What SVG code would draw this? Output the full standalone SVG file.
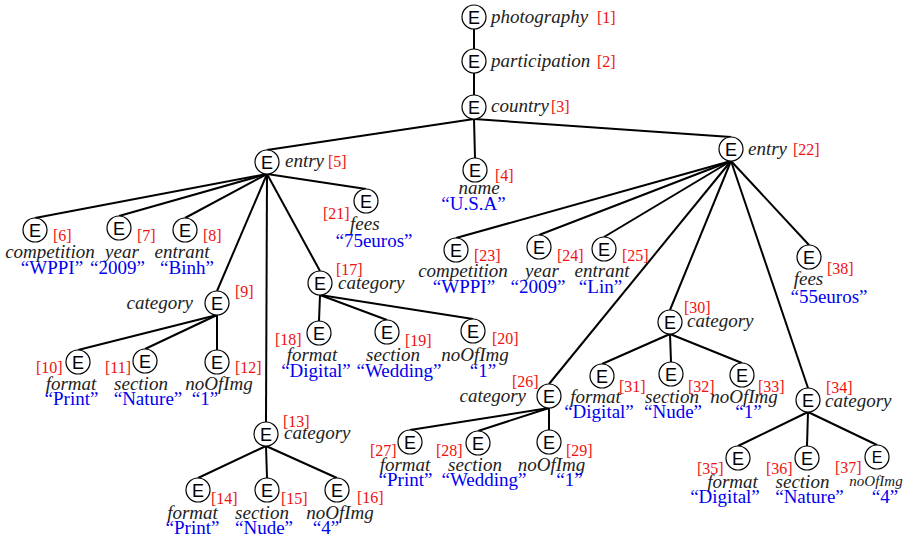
<svg xmlns="http://www.w3.org/2000/svg" width="908" height="540" viewBox="0 0 908 540">
<style>
.bg{fill:#fff}
circle{fill:#fff;stroke:#000;stroke-width:1.2}
.E{font-family:"Liberation Sans",Arial,sans-serif;font-size:18px;text-anchor:middle;fill:#000}
.l{font-family:"Liberation Serif","Times New Roman",serif;font-style:italic;font-size:19px;fill:#222}
.r{font-family:"Liberation Serif","Times New Roman",serif;font-size:16px;fill:#f01010}
.v{font-family:"Liberation Serif","Times New Roman",serif;font-size:19px;fill:#0000ee;text-anchor:middle}
.m{text-anchor:middle}
.end{text-anchor:end}
#edges line{stroke:#000;stroke-width:2}
</style>
<rect class="bg" width="908" height="540"/>
<g id="edges">
<line x1="474" y1="29" x2="474" y2="49"/>
<line x1="474" y1="73" x2="474" y2="95"/>
<line x1="474" y1="119" x2="267" y2="150"/>
<line x1="474" y1="119" x2="475" y2="158"/>
<line x1="474" y1="119" x2="731" y2="137"/>
<line x1="267" y1="174" x2="35" y2="218"/>
<line x1="267" y1="174" x2="119" y2="216"/>
<line x1="267" y1="174" x2="185" y2="218"/>
<line x1="267" y1="174" x2="217" y2="291"/>
<line x1="267" y1="174" x2="266" y2="422"/>
<line x1="267" y1="174" x2="320" y2="271"/>
<line x1="267" y1="174" x2="366" y2="189"/>
<line x1="217" y1="315" x2="78" y2="350"/>
<line x1="217" y1="315" x2="145" y2="349"/>
<line x1="217" y1="315" x2="217" y2="350"/>
<line x1="266" y1="446" x2="198" y2="478"/>
<line x1="266" y1="446" x2="267" y2="478"/>
<line x1="266" y1="446" x2="337" y2="478"/>
<line x1="320" y1="295" x2="319" y2="321"/>
<line x1="320" y1="295" x2="387" y2="320"/>
<line x1="320" y1="295" x2="473" y2="319"/>
<line x1="731" y1="161" x2="456" y2="238"/>
<line x1="731" y1="161" x2="539" y2="235"/>
<line x1="731" y1="161" x2="604" y2="237"/>
<line x1="731" y1="161" x2="549" y2="384"/>
<line x1="731" y1="161" x2="670" y2="310"/>
<line x1="731" y1="161" x2="808" y2="388"/>
<line x1="731" y1="161" x2="809" y2="245"/>
<line x1="549" y1="408" x2="410" y2="430"/>
<line x1="549" y1="408" x2="478" y2="431"/>
<line x1="549" y1="408" x2="549" y2="430"/>
<line x1="670" y1="334" x2="602" y2="364"/>
<line x1="670" y1="334" x2="671" y2="362"/>
<line x1="670" y1="334" x2="742" y2="363"/>
<line x1="808" y1="412" x2="738" y2="446"/>
<line x1="808" y1="412" x2="807" y2="446"/>
<line x1="808" y1="412" x2="877" y2="445"/>
</g>
<g id="n1"><circle cx="474" cy="17" r="12"/><text class="E" x="474" y="23.5">E</text><text class="l" x="491" y="23">photography</text><text class="r" x="597" y="23">[1]</text></g>
<g id="n2"><circle cx="474" cy="61" r="12"/><text class="E" x="474" y="67.5">E</text><text class="l" x="491" y="67">participation</text><text class="r" x="597" y="67">[2]</text></g>
<g id="n3"><circle cx="474" cy="107" r="12"/><text class="E" x="474" y="113.5">E</text><text class="l" x="491" y="112">country</text><text class="r" x="551" y="112">[3]</text></g>
<g id="n4"><circle cx="475" cy="170" r="12"/><text class="E" x="475" y="176.5">E</text><text class="r" x="495" y="181">[4]</text><text class="l m" x="479" y="194">name</text><text class="v" x="473.5" y="210">“U.S.A”</text></g>
<g id="n5"><circle cx="267" cy="162" r="12"/><text class="E" x="267" y="168.5">E</text><text class="l" x="285" y="167">entry</text><text class="r" x="328" y="167">[5]</text></g>
<g id="n6"><circle cx="35" cy="230" r="12"/><text class="E" x="35" y="236.5">E</text><text class="r" x="53" y="241">[6]</text><text class="l m" x="50" y="258">competition</text><text class="v" x="52" y="274">“WPPI”</text></g>
<g id="n7"><circle cx="119" cy="228" r="12"/><text class="E" x="119" y="234.5">E</text><text class="r" x="137" y="241">[7]</text><text class="l m" x="122" y="258">year</text><text class="v" x="117.5" y="274">“2009”</text></g>
<g id="n8"><circle cx="185" cy="230" r="12"/><text class="E" x="185" y="236.5">E</text><text class="r" x="203" y="241">[8]</text><text class="l m" x="182" y="258">entrant</text><text class="v" x="187" y="274">“Binh”</text></g>
<g id="n9"><circle cx="217" cy="303" r="12"/><text class="E" x="217" y="309.5">E</text><text class="r" x="235" y="297">[9]</text><text class="l end" x="193" y="309">category</text></g>
<g id="n10"><circle cx="78" cy="362" r="12"/><text class="E" x="78" y="368.5">E</text><text class="r" x="36" y="373">[10]</text><text class="l m" x="71" y="390">format</text><text class="v" x="71.5" y="405">“Print”</text></g>
<g id="n11"><circle cx="145" cy="361" r="12"/><text class="E" x="145" y="367.5">E</text><text class="r" x="105" y="373">[11]</text><text class="l m" x="141" y="390">section</text><text class="v" x="148" y="405">“Nature”</text></g>
<g id="n12"><circle cx="217" cy="362" r="12"/><text class="E" x="217" y="368.5">E</text><text class="r" x="235" y="373">[12]</text><text class="l m" x="219" y="390">noOfImg</text><text class="v" x="205" y="405">“1”</text></g>
<g id="n13"><circle cx="266" cy="434" r="12"/><text class="E" x="266" y="440.5">E</text><text class="r" x="283" y="427">[13]</text><text class="l" x="284" y="439">category</text></g>
<g id="n14"><circle cx="198" cy="490" r="12"/><text class="E" x="198" y="496.5">E</text><text class="r" x="211" y="504">[14]</text><text class="l m" x="192.5" y="519">format</text><text class="v" x="192.5" y="534">“Print”</text></g>
<g id="n15"><circle cx="267" cy="490" r="12"/><text class="E" x="267" y="496.5">E</text><text class="r" x="281" y="504">[15]</text><text class="l m" x="262" y="519">section</text><text class="v" x="264" y="534">“Nude”</text></g>
<g id="n16"><circle cx="337" cy="490" r="12"/><text class="E" x="337" y="496.5">E</text><text class="r" x="357" y="503">[16]</text><text class="l m" x="340" y="519">noOfImg</text><text class="v" x="326" y="534">“4”</text></g>
<g id="n17"><circle cx="320" cy="283" r="12"/><text class="E" x="320" y="289.5">E</text><text class="r" x="336" y="275">[17]</text><text class="l" x="338" y="289">category</text></g>
<g id="n18"><circle cx="319" cy="333" r="12"/><text class="E" x="319" y="339.5">E</text><text class="r" x="275" y="345">[18]</text><text class="l m" x="312" y="361">format</text><text class="v" x="316" y="377">“Digital”</text></g>
<g id="n19"><circle cx="387" cy="332" r="12"/><text class="E" x="387" y="338.5">E</text><text class="r" x="405" y="346">[19]</text><text class="l m" x="393" y="361">section</text><text class="v" x="399" y="377">“Wedding”</text></g>
<g id="n20"><circle cx="473" cy="331" r="12"/><text class="E" x="473" y="337.5">E</text><text class="r" x="492" y="344">[20]</text><text class="l m" x="475" y="361">noOfImg</text><text class="v" x="483" y="377">“1”</text></g>
<g id="n21"><circle cx="366" cy="201" r="12"/><text class="E" x="366" y="207.5">E</text><text class="r" x="323" y="219">[21]</text><text class="l" x="350" y="230">fees</text><text class="v" x="374" y="247">“75euros”</text></g>
<g id="n22"><circle cx="731" cy="149" r="12"/><text class="E" x="731" y="155.5">E</text><text class="l" x="748" y="155">entry</text><text class="r" x="793" y="155">[22]</text></g>
<g id="n23"><circle cx="456" cy="250" r="12"/><text class="E" x="456" y="256.5">E</text><text class="r" x="474" y="261">[23]</text><text class="l m" x="463" y="277">competition</text><text class="v" x="464" y="293">“WPPI”</text></g>
<g id="n24"><circle cx="539" cy="247" r="12"/><text class="E" x="539" y="253.5">E</text><text class="r" x="557" y="261">[24]</text><text class="l m" x="542" y="277">year</text><text class="v" x="538" y="293">“2009”</text></g>
<g id="n25"><circle cx="604" cy="249" r="12"/><text class="E" x="604" y="255.5">E</text><text class="r" x="622" y="261">[25]</text><text class="l m" x="602" y="277">entrant</text><text class="v" x="600.5" y="293">“Lin”</text></g>
<g id="n26"><circle cx="549" cy="396" r="12"/><text class="E" x="549" y="402.5">E</text><text class="r" x="512" y="387">[26]</text><text class="l end" x="526" y="402">category</text></g>
<g id="n27"><circle cx="410" cy="442" r="12"/><text class="E" x="410" y="448.5">E</text><text class="r" x="370" y="456">[27]</text><text class="l m" x="405" y="471">format</text><text class="v" x="405.5" y="486">“Print”</text></g>
<g id="n28"><circle cx="478" cy="443" r="12"/><text class="E" x="478" y="449.5">E</text><text class="r" x="436" y="456">[28]</text><text class="l m" x="475" y="471">section</text><text class="v" x="484" y="486">“Wedding”</text></g>
<g id="n29"><circle cx="549" cy="442" r="12"/><text class="E" x="549" y="448.5">E</text><text class="r" x="566" y="456">[29]</text><text class="l m" x="551.5" y="471">noOfImg</text><text class="v" x="569.5" y="486">“1”</text></g>
<g id="n30"><circle cx="670" cy="322" r="12"/><text class="E" x="670" y="328.5">E</text><text class="r" x="684" y="313">[30]</text><text class="l" x="687" y="327">category</text></g>
<g id="n31"><circle cx="602" cy="376" r="12"/><text class="E" x="602" y="382.5">E</text><text class="r" x="619" y="392">[31]</text><text class="l m" x="595.5" y="403">format</text><text class="v" x="599" y="418">“Digital”</text></g>
<g id="n32"><circle cx="671" cy="374" r="12"/><text class="E" x="671" y="380.5">E</text><text class="r" x="688" y="392">[32]</text><text class="l m" x="672" y="403">section</text><text class="v" x="673" y="418">“Nude”</text></g>
<g id="n33"><circle cx="742" cy="375" r="12"/><text class="E" x="742" y="381.5">E</text><text class="r" x="758" y="392">[33]</text><text class="l m" x="744" y="403">noOfImg</text><text class="v" x="748.5" y="418">“1”</text></g>
<g id="n34"><circle cx="808" cy="400" r="12"/><text class="E" x="808" y="406.5">E</text><text class="r" x="826" y="393">[34]</text><text class="l" x="825" y="407">category</text></g>
<g id="n35"><circle cx="738" cy="458" r="12"/><text class="E" x="738" y="464.5">E</text><text class="r" x="697" y="474">[35]</text><text class="l m" x="732.5" y="488">format</text><text class="v" x="725" y="503">“Digital”</text></g>
<g id="n36"><circle cx="807" cy="458" r="12"/><text class="E" x="807" y="464.5">E</text><text class="r" x="766" y="474">[36]</text><text class="l m" x="802.5" y="488">section</text><text class="v" x="809.5" y="503">“Nature”</text></g>
<g id="n37"><circle cx="877" cy="457" r="12"/><text class="E" x="877" y="462.5" style="font-size:16px">E</text><text class="r" x="835" y="473">[37]</text><text class="l m" x="876" y="486" style="font-size:15px">noOfImg</text><text class="v" x="885" y="503">“4”</text></g>
<g id="n38"><circle cx="809" cy="257" r="12"/><text class="E" x="809" y="263.5">E</text><text class="r" x="827" y="274">[38]</text><text class="l m" x="808.5" y="285">fees</text><text class="v" x="829" y="303">“55euros”</text></g>
</svg>
